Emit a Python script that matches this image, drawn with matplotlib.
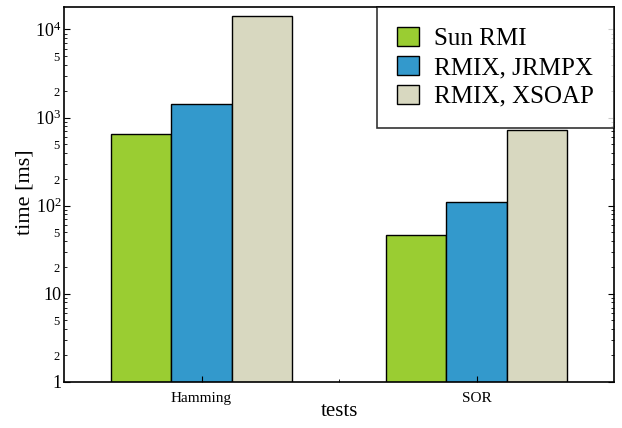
import matplotlib
matplotlib.use('Agg')
import matplotlib.pyplot as plt
import matplotlib.ticker as mticker
import numpy as np

plt.rcParams['font.family'] = 'Liberation Serif'
plt.rcParams['mathtext.fontset'] = 'custom'
plt.rcParams['mathtext.rm'] = 'Liberation Serif'
plt.rcParams['mathtext.it'] = 'Liberation Serif:italic'

tests = ['Hamming', 'SOR']
series = ['Sun RMI', 'RMIX, JRMPX', 'RMIX, XSOAP']
sun_rmi = [660, 46]
rmix_jrmpx = [1440, 111]
rmix_xsoap = [14400, 730]
colors = ['#9acd32', '#3399cc', '#d8d8c0']

fig = plt.figure(figsize=(6.22, 4.28), dpi=100)
ax = fig.add_axes([64 / 622, 1 - 382 / 428, 550 / 622, 375 / 428])

x = np.arange(len(tests))
width = 0.22
for i, (vals, name) in enumerate(zip([sun_rmi, rmix_jrmpx, rmix_xsoap], series)):
    ax.bar(x + (i - 1) * width, vals, width, color=colors[i], edgecolor='black',
           linewidth=1.0, label=name)

ax.set_yscale('log')
ax.set_ylim(1, 1.8e4)
ax.set_xlim(-0.5, 1.5)


def major_fmt(v, pos):
    if v == 1:
        return '1'
    if v == 10:
        return '10'
    return r'$10^{%d}$' % int(round(np.log10(v)))


def minor_fmt(v, pos):
    m = v / 10 ** np.floor(np.log10(v) + 1e-9)
    m = int(round(m))
    return str(m) if m in (2, 5) else ''


ax.yaxis.set_major_locator(mticker.LogLocator(base=10, numticks=10))
ax.yaxis.set_major_formatter(mticker.FuncFormatter(major_fmt))
ax.yaxis.set_minor_locator(mticker.LogLocator(base=10, subs=np.arange(2, 10), numticks=10))
ax.yaxis.set_minor_formatter(mticker.FuncFormatter(minor_fmt))

ax.set_xticks(x)
ax.set_xticklabels(tests)
ax.set_xticks([0.5], minor=True)

ax.tick_params(axis='y', which='major', direction='in', length=4, right=True, labelsize=13, pad=2)
ax.tick_params(axis='y', which='minor', direction='in', length=2, right=True, labelsize=9, pad=3)
ax.tick_params(axis='x', which='major', direction='in', length=4, labelsize=11, pad=7)
ax.tick_params(axis='x', which='minor', direction='in', length=2)

for s in ax.spines.values():
    s.set_linewidth(1.2)

ax.set_xlabel('tests', fontsize=15)
ax.set_ylabel('time [ms]', fontsize=16)
ax.yaxis.set_label_coords(-0.054, 0.507)
ax.xaxis.set_label_coords(0.5, -0.054)

leg = ax.legend(loc='upper right', fontsize=18, frameon=True, fancybox=False,
                borderaxespad=0, handlelength=0.9, handleheight=0.8,
                borderpad=0.8, labelspacing=0.22, handletextpad=0.6)
leg.get_frame().set_edgecolor('black')
leg.get_frame().set_linewidth(1.2)

fig.savefig('out.png', dpi=100)
